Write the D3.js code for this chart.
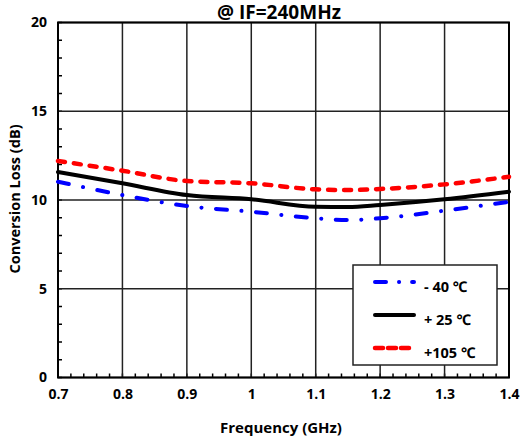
<!DOCTYPE html>
<html>
<head>
<meta charset="utf-8">
<script src="https://cdn.jsdelivr.net/npm/d3@7"></script>
<style>
  body { margin: 0; background: #fff; }
  text { font-family: "Open Sans", "Noto Sans", sans-serif; font-weight: bold; fill: #000; }
</style>
</head>
<body>
<div id="chart"></div>
<script>
// frequency points (GHz)
const freq = [0.7, 0.8, 0.9, 1.0, 1.1, 1.15, 1.2, 1.3, 1.4];
// conversion loss (dB) per temperature
const lossMinus40 = [11.03, 10.28, 9.66, 9.34, 8.97, 8.87, 8.97, 9.4, 9.9];
const lossPlus25 = [11.58, 10.94, 10.28, 10.04, 9.62, 9.6, 9.72, 10.04, 10.47];
const lossPlus105 = [12.2, 11.65, 11.07, 10.94, 10.6, 10.56, 10.62, 10.88, 11.31];
const seriesNames = ["- 40 \u2103", "+ 25 \u2103", "+105 \u2103"];
const xTicks = [0.7, 0.8, 0.9, 1.0, 1.1, 1.2, 1.3, 1.4];
const yTicks = [0, 5, 10, 15, 20];

const width = 520, height = 440;
const margin = { top: 22.5, right: 11, bottom: 62.5, left: 58 };

const svg = d3.select("#chart").append("svg")
    .attr("width", width)
    .attr("height", height);

const x = d3.scaleLinear().domain([0.7, 1.4]).range([margin.left, width - margin.right]);
const y = d3.scaleLinear().domain([0, 20]).range([height - margin.bottom, margin.top]);

// minor ticks (inside)
const minorX = d3.range(0.7, 1.4001, 0.02);
const minorY = d3.range(0, 20.001, 1);
svg.append("g").selectAll("line").data(minorX).join("line")
    .attr("x1", d => x(d)).attr("x2", d => x(d))
    .attr("y1", y(0)).attr("y2", y(0) - 4)
    .attr("stroke", "#000").attr("stroke-width", 1.5);
svg.append("g").selectAll("line").data(minorY).join("line")
    .attr("x1", x(0.7)).attr("x2", x(0.7) + 4)
    .attr("y1", d => y(d)).attr("y2", d => y(d))
    .attr("stroke", "#000").attr("stroke-width", 1.5);

// grid
svg.append("g").selectAll("line").data(xTicks).join("line")
    .attr("x1", d => x(d)).attr("x2", d => x(d))
    .attr("y1", y(0)).attr("y2", y(20))
    .attr("stroke", "#222").attr("stroke-width", 1.5);
svg.append("g").selectAll("line").data(yTicks).join("line")
    .attr("x1", x(0.7)).attr("x2", x(1.4))
    .attr("y1", d => y(d)).attr("y2", d => y(d))
    .attr("stroke", "#222").attr("stroke-width", 1.5);

// frame
svg.append("rect")
    .attr("x", x(0.7)).attr("y", y(20))
    .attr("width", x(1.4) - x(0.7)).attr("height", y(0) - y(20))
    .attr("fill", "none").attr("stroke", "#000").attr("stroke-width", 2);

// axes labels
const xAxis = svg.append("g")
    .attr("transform", `translate(0,${y(0)})`)
    .call(d3.axisBottom(x).tickValues(xTicks).tickSize(0).tickPadding(12).tickFormat(d3.format("~g")));
xAxis.select(".domain").remove();
xAxis.selectAll("text").style("font-size", "14px").attr("fill", "#000");

const yAxis = svg.append("g")
    .attr("transform", `translate(${x(0.7)},0)`)
    .call(d3.axisLeft(y).tickValues(yTicks).tickSize(0).tickPadding(11));
yAxis.select(".domain").remove();
yAxis.selectAll("text").style("font-size", "14px").attr("fill", "#000");

// lines
const styles = [
    { color: "#0000ff", dash: "11,14.5,0.1,14.5", w: 4 },
    { color: "#000000", dash: null, w: 4 },
    { color: "#ff0000", dash: "7,9", w: 4.5 }
];
const allSeries = [lossMinus40, lossPlus25, lossPlus105];

const line = d3.line()
    .x((d, i) => x(freq[i]))
    .y(d => y(d))
    .curve(d3.curveMonotoneX);

allSeries.forEach((vals, k) => {
    svg.append("path")
        .datum(vals)
        .attr("fill", "none")
        .attr("stroke", styles[k].color)
        .attr("stroke-width", styles[k].w)
        .attr("stroke-linecap", "round")
        .attr("stroke-dasharray", styles[k].dash)
        .attr("d", line);
});

// title
svg.append("text")
    .attr("x", 279).attr("y", 19)
    .attr("text-anchor", "middle")
    .style("font-size", "19px")
    .text("@ IF=240MHz");

// axis titles
svg.append("text")
    .attr("x", 281).attr("y", 433)
    .attr("text-anchor", "middle")
    .style("font-size", "15px")
    .text("Frequency (GHz)");
svg.append("text")
    .attr("transform", "translate(20,199) rotate(-90)")
    .attr("text-anchor", "middle")
    .style("font-size", "14.5px")
    .text("Conversion Loss (dB)");

// legend
const legend = svg.append("g").attr("transform", "translate(353,265)");
legend.append("rect")
    .attr("width", 144).attr("height", 100)
    .attr("fill", "#fff").attr("stroke", "#222").attr("stroke-width", 1.5);
seriesNames.forEach((name, k) => {
    const ly = 17 + k * 33;
    legend.append("line")
        .attr("x1", 22).attr("x2", 61)
        .attr("y1", ly).attr("y2", ly)
        .attr("stroke", styles[k].color)
        .attr("stroke-width", styles[k].w)
        .attr("stroke-linecap", "round")
        .attr("stroke-dasharray", k === 0 ? "11,13,0.1,13" : k === 2 ? "8,5" : null);
    legend.append("text")
        .attr("x", 71).attr("y", ly + 10)
        .style("font-size", "14.5px")
        .text(name);
});
</script>
</body>
</html>
